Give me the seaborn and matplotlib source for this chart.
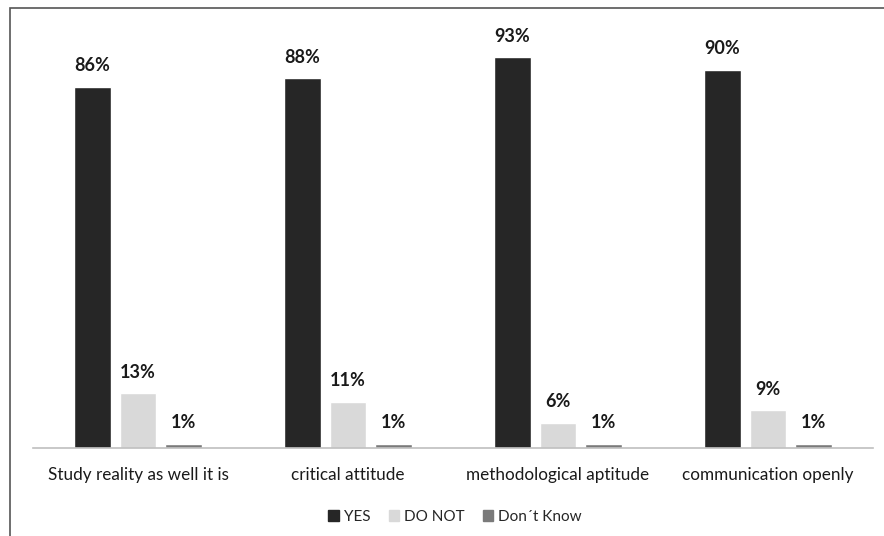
import matplotlib.pyplot as plt
import matplotlib.patches as mpatches
import seaborn as sns
import pandas as pd

categories = ["Study reality as well it is", "critical attitude",
              "methodological aptitude", "communication openly"]
answers = ["YES", "DO NOT", "Don\u00b4t Know"]
yes_vals = [86, 88, 93, 90]
donot_vals = [13, 11, 6, 9]
dontknow_vals = [1, 1, 1, 1]
colors = ["#262626", "#d9d9d9", "#7a7a7a"]

rows = []
for i, cat in enumerate(categories):
    for ans, vals in zip(answers, [yes_vals, donot_vals, dontknow_vals]):
        rows.append({"category": cat, "answer": ans, "value": vals[i]})
df = pd.DataFrame(rows)

sns.set_style("white")
plt.rcParams["font.family"] = ["Lato", "DejaVu Sans"]

fig = plt.figure(figsize=(8.84, 5.36), dpi=100)
ax = fig.add_axes([33 / 884, 88 / 536, 840 / 884, 420 / 536])

sns.barplot(data=df, x="category", y="value", hue="answer", hue_order=answers,
            palette=colors, width=0.65, gap=0.19, ax=ax, saturation=1, legend=False)

for cont in ax.containers:
    ax.bar_label(cont, labels=[f"{v:.0f}%" for v in cont.datavalues],
                 padding=9, fontsize=13, fontweight="bold", color="#1a1a1a")

ax.set_ylim(0, 100)
ax.set_xlim(-0.5, 3.5)
ax.set_xlabel("")
ax.set_ylabel("")
ax.set_yticks([])
ax.tick_params(axis="x", length=0, pad=14, labelsize=12.3, colors="#1a1a1a")
for side in ["top", "left", "right"]:
    ax.spines[side].set_visible(False)
ax.spines["bottom"].set_color("#bfbfbf")
ax.spines["bottom"].set_linewidth(1.2)

handles = [mpatches.Patch(color=c, label=a) for c, a in zip(colors, answers)]
fig.legend(handles=handles, loc="center", bbox_to_anchor=(455 / 884, 1 - 517 / 536),
           ncol=3, frameon=False, fontsize=11, handlelength=0.7, handleheight=0.7,
           handletextpad=0.3, columnspacing=1.2)

# outer frame of the original screenshot
fig.patches.append(mpatches.Rectangle((10 / 884, -0.02), 1.1, 1 - 8 / 536 + 0.02,
                                      transform=fig.transFigure, fill=False,
                                      edgecolor="#555555", linewidth=1.2))

fig.savefig("out.png", dpi=100)
